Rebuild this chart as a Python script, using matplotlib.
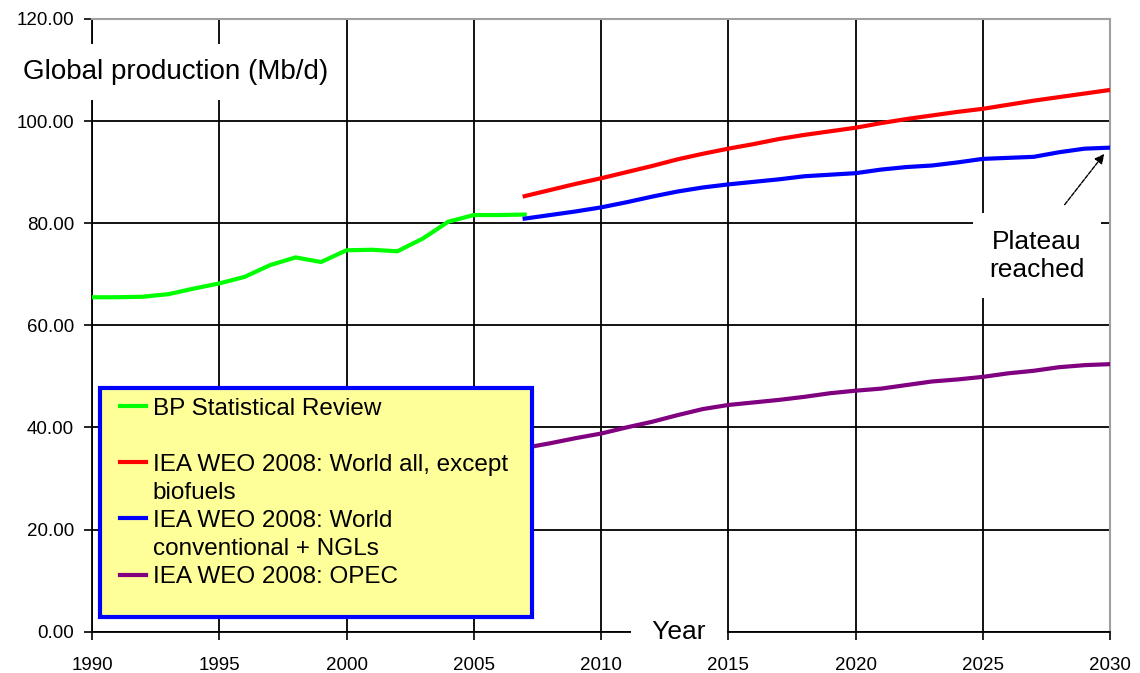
import numpy as np
import matplotlib.pyplot as plt
from matplotlib.lines import Line2D
from matplotlib.patches import Rectangle

plt.rcParams['font.family'] = ['Liberation Sans', 'DejaVu Sans']

# BP Statistical Review (historical)
bp_years = list(range(1990, 2008))
bp_prod = [65.5, 65.5, 65.6, 66.1, 67.2, 68.2, 69.5, 71.8, 73.3, 72.4,
           74.7, 74.8, 74.5, 77.0, 80.3, 81.6, 81.6, 81.7]

# IEA WEO 2008 projections
weo_years = list(range(2007, 2031))
weo_all = [85.3, 86.5, 87.7, 88.8, 90.0, 91.2, 92.5, 93.6, 94.6, 95.5,
           96.5, 97.3, 98.0, 98.7, 99.6, 100.4, 101.1, 101.8, 102.4, 103.2,
           104.0, 104.7, 105.4, 106.1]
weo_conv = [80.9, 81.6, 82.3, 83.1, 84.1, 85.2, 86.2, 87.0, 87.6, 88.1,
            88.6, 89.2, 89.5, 89.8, 90.5, 91.0, 91.3, 91.9, 92.6, 92.8,
            93.0, 93.9, 94.6, 94.8]
weo_opec = [36.0, 36.9, 37.9, 38.8, 40.0, 41.1, 42.4, 43.6, 44.4, 44.9,
            45.4, 46.0, 46.7, 47.2, 47.6, 48.3, 49.0, 49.4, 49.9, 50.6,
            51.1, 51.8, 52.2, 52.4]

fig = plt.figure(figsize=(11.4, 6.73), dpi=100)
ax = fig.add_axes([0.0807, 0.0614, 0.8930, 0.9104])

ax.set_xlim(1990, 2030)
ax.set_ylim(0, 120)
ax.set_xticks(range(1990, 2031, 5))
ax.set_yticks(range(0, 121, 20))
ax.set_yticklabels(['%.2f' % v for v in range(0, 121, 20)])
ax.tick_params(axis='y', length=6, width=1.2, pad=7, labelsize=13.5)
ax.tick_params(axis='x', length=6, width=1.2, pad=12, labelsize=13.5)

ax.grid(True, color='black', linewidth=1.3)
ax.set_axisbelow(True)
for s in ['left', 'bottom']:
    ax.spines[s].set_color('black')
    ax.spines[s].set_linewidth(1.3)
for s in ['top', 'right']:
    ax.spines[s].set_color('#a0a0a0')
    ax.spines[s].set_linewidth(1.5)

l_bp, = ax.plot(bp_years, bp_prod, color='#00ff00', lw=3, zorder=3)
l_all, = ax.plot(weo_years, weo_all, color='#ff0000', lw=3, zorder=3)
l_conv, = ax.plot(weo_years, weo_conv, color='#0000ff', lw=3, zorder=3)
l_opec, = ax.plot(weo_years, weo_opec, color='#800080', lw=3, zorder=3)

# axis titles placed inside the plot, white boxes cut the grid
ax.text(1993.3, 109.6, 'Global production (Mb/d)', fontsize=20, ha='center', va='center',
        bbox=dict(facecolor='white', edgecolor='none', pad=11), zorder=4, clip_on=False)
ax.text(2013.06, 0, '  Year  ', fontsize=19, ha='center', va='center',
        bbox=dict(facecolor='white', edgecolor='none', pad=5), zorder=4, clip_on=False)
ax.text(2027.13, 73.6, 'Plateau\nreached', fontsize=19, ha='center', va='center',
        linespacing=1.2, bbox=dict(facecolor='white', edgecolor='none', pad=12), zorder=4)
ax.annotate('', xy=(2029.84, 94.0), xytext=(2028.15, 83.2),
            arrowprops=dict(arrowstyle='-|>', color='black', lw=1, ls=(0, (3, 1)),
                            mutation_scale=14), zorder=5)

# legend box
ax.add_patch(Rectangle((0.0079, 0.024), 0.4243, 0.3737, transform=ax.transAxes,
                       facecolor='#ffff99', edgecolor='#0000ff', lw=3, zorder=6))
blank = Line2D([], [], color='none')
handles = [l_bp, blank, l_all, blank, l_conv, blank, l_opec]
labels = ['BP Statistical Review', ' ', 'IEA WEO 2008: World all, except', 'biofuels',
          'IEA WEO 2008: World', 'conventional + NGLs', 'IEA WEO 2008: OPEC']
leg = ax.legend(handles, labels, loc='upper left', bbox_to_anchor=(0.0275, 0.382),
                frameon=False, fontsize=17.5, handlelength=1.05, handletextpad=0.3,
                labelspacing=0.25, borderpad=0, borderaxespad=0)
leg.set_zorder(7)

fig.savefig('out.png', dpi=100)
